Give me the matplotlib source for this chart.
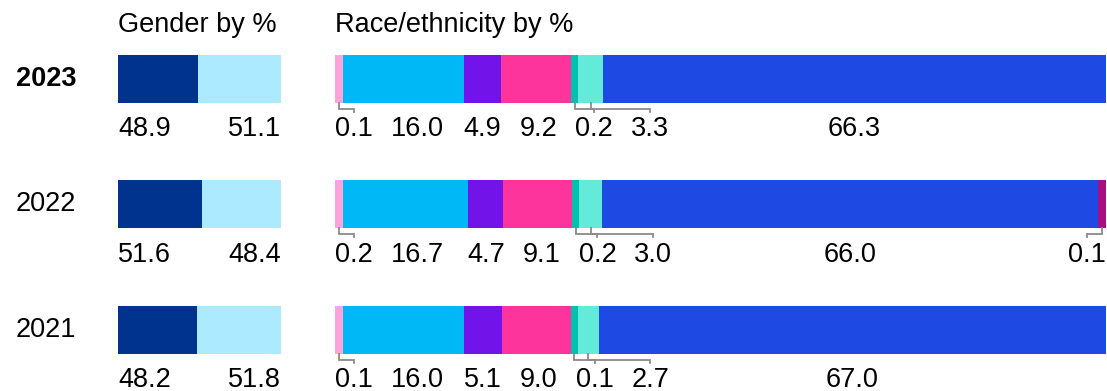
import numpy as np
import matplotlib.pyplot as plt
from matplotlib.transforms import blended_transform_factory

# ---- data ----
years = ['2023', '2022', '2021']
gender_values = [[48.9, 51.1], [51.6, 48.4], [48.2, 51.8]]
race_values = [
    [0.1, 16.0, 4.9, 9.2, 0.2, 3.3, 66.3, 0.0],
    [0.2, 16.7, 4.7, 9.1, 0.2, 3.0, 66.0, 0.1],
    [0.1, 16.0, 5.1, 9.0, 0.1, 2.7, 67.0, 0.0],
]

gender_colors = ['#00338D', '#ACEAFF']
race_colors = ['#FFA3DA', '#00B8F5', '#7213EA', '#FD349C',
               '#00C0AE', '#63EBDA', '#1E49E2', '#AB0D82']

W, H = 1107, 391
plt.rcParams['font.family'] = ['Liberation Sans', 'DejaVu Sans']
FS = 19.5
MIN_W = 1.0          # smallest drawn segment, in % of bar
ROW_PX = 125.5
BAR_H = 48 / ROW_PX
LABEL_DY = 57 / ROW_PX
GAP_PX = 18

fig = plt.figure(figsize=(W / 100, H / 100), dpi=100)

def make_axes(x0, x1):
    ax = fig.add_axes([x0 / W, 0, (x1 - x0) / W, 1])
    ax.set_xlim(0, 100)
    ax.set_ylim((H - 79) / ROW_PX, -79 / ROW_PX)
    ax.axis('off')
    return ax

ax_g = make_axes(118, 281)
ax_r = make_axes(335, 1106)

fig.text(118 / W, 1 - 32 / H, 'Gender by %', fontsize=FS, va='baseline')
fig.text(335 / W, 1 - 32 / H, 'Race/ethnicity by %', fontsize=FS, va='baseline')

# gender bars + year labels
year_tr = blended_transform_factory(fig.transFigure, ax_g.transData)
for i, (year, vals) in enumerate(zip(years, gender_values)):
    ax_g.barh(i, vals[0], left=0, height=BAR_H, color=gender_colors[0], linewidth=0)
    ax_g.barh(i, vals[1], left=vals[0], height=BAR_H, color=gender_colors[1], linewidth=0)
    ax_g.text(0, i + LABEL_DY, f'{vals[0]:.1f}', fontsize=FS, ha='left', va='baseline')
    ax_g.text(100, i + LABEL_DY, f'{vals[1]:.1f}', fontsize=FS, ha='right', va='baseline')
    fig.text(16 / W, i, year, fontsize=FS, va='center', transform=year_tr,
             fontweight='bold' if i == 0 else 'normal')

# race bars
px_per_unit = (1106 - 335) / 100
renderer = fig.canvas.get_renderer()
for i, vals in enumerate(race_values):
    vals = np.array(vals)
    shown = np.where(vals > 0, np.maximum(vals, MIN_W), 0)
    shown = shown / shown.sum() * 100
    lefts = np.concatenate([[0], np.cumsum(shown)[:-1]])
    idx = [k for k in range(len(vals)) if vals[k] > 0]
    for k in idx:
        ax_r.barh(i, shown[k], left=lefts[k], height=BAR_H,
                  color=race_colors[k], linewidth=0)
    # labels: start at segment centres, then push apart
    centers = lefts + shown / 2
    texts, widths = [], []
    for k in idx:
        t = ax_r.text(centers[k], i + LABEL_DY, f'{vals[k]:.1f}', fontsize=FS,
                      ha='center', va='baseline', clip_on=False)
        texts.append(t)
        widths.append(t.get_window_extent(renderer).width / px_per_unit)
    pos = [centers[k] for k in idx]
    gap = GAP_PX / px_per_unit
    for j in range(len(idx)):
        lo = widths[j] / 2 if j == 0 else pos[j - 1] + widths[j - 1] / 2 + gap + widths[j] / 2
        pos[j] = max(pos[j], lo)
    pos[-1] = min(pos[-1], 100 - widths[-1] / 2)
    for j in range(len(idx) - 2, -1, -1):
        hi = pos[j + 1] - widths[j + 1] / 2 - gap - widths[j] / 2
        pos[j] = min(pos[j], hi)
    for j, k in enumerate(idx):
        texts[j].set_x(pos[j])
        moved = abs(pos[j] - centers[k]) * px_per_unit > 2
        if shown[k] < widths[j] and moved:
            y0 = i + BAR_H / 2
            y1 = y0 + 6 / ROW_PX
            y2 = y1 + 3 / ROW_PX
            ax_r.plot([centers[k], centers[k], pos[j], pos[j]], [y0, y1, y1, y2],
                      color='#8a8a8a', lw=1.3, solid_joinstyle='miter', clip_on=False)

fig.savefig('out.png', dpi=100)
